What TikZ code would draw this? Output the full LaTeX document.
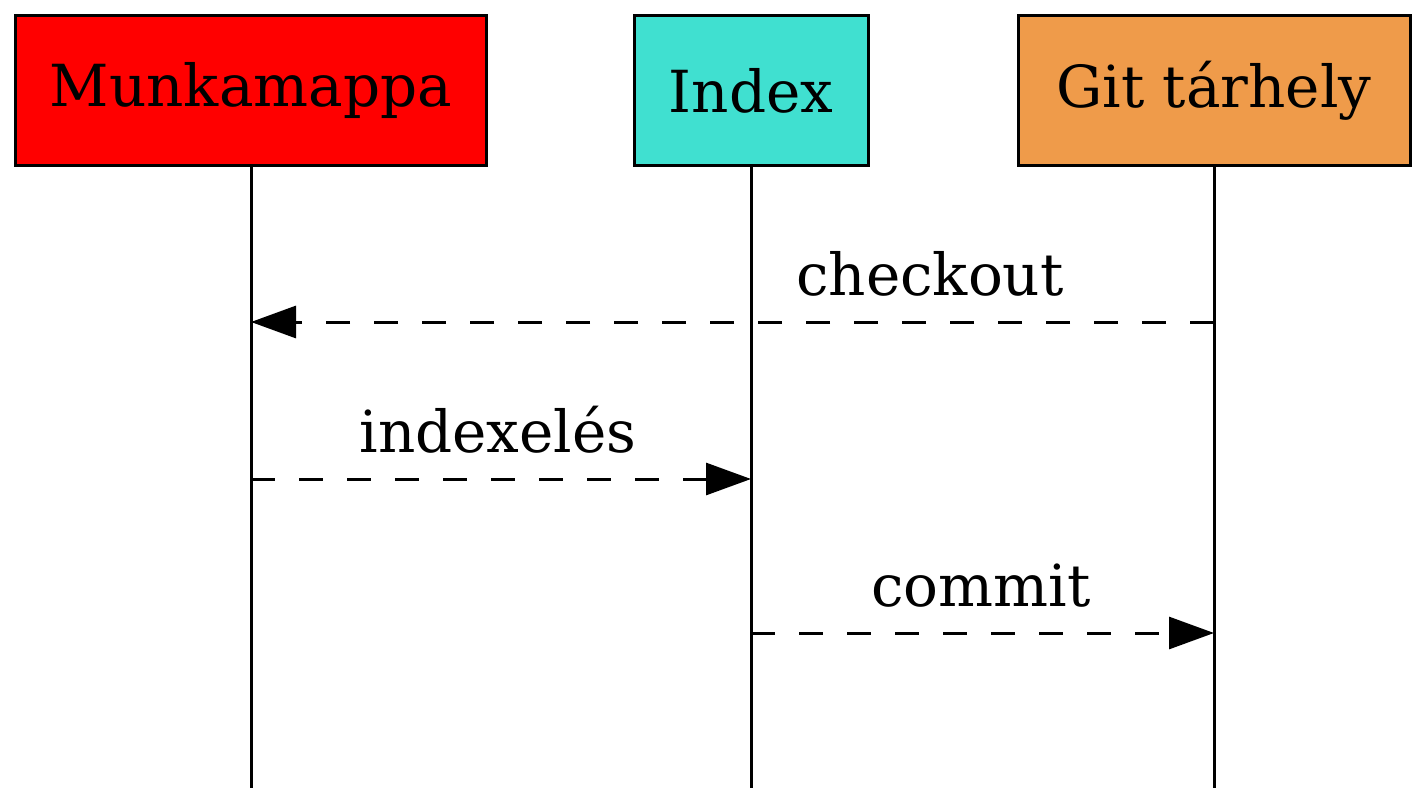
\documentclass[tikz,border=0pt]{standalone}
\usepackage{fontspec}
\setmainfont{DejaVu Serif}
\usetikzlibrary{arrows.meta}
\definecolor{gitorange}{HTML}{EF9B4A}
\definecolor{idxcyan}{HTML}{40E0D0}
\begin{document}
\begin{tikzpicture}[x=1pt,y=-1pt,line width=3pt,
    every node/.style={font=\fontsize{58}{64}\selectfont},
    actor/.style={draw,minimum height=150pt,inner sep=0pt},
    msg/.style={dash pattern=on 24pt off 24pt,-{Triangle[length=45pt,width=32pt]}},
    lbl/.style={anchor=base,yshift=27pt}]
  \useasboundingbox (0,0) rectangle (1427,805);
  % actors
  \node[actor,fill=red,minimum width=471pt] (M) at (251,91) {Munkamappa};
  \node[actor,fill=idxcyan,minimum width=234pt] (I) at (751,91) {Index};
  \node[actor,fill=gitorange,minimum width=392pt] (G) at (1214,91) {Git tárhely};
  % lifelines
  \coordinate (Mend) at (251,788);
  \coordinate (Iend) at (751,788);
  \coordinate (Gend) at (1214,788);
  \draw (M.south) -- (Mend);
  \draw (I.south) -- (Iend);
  \draw (G.south) -- (Gend);
  % message points
  \coordinate (G1) at (1214,322);
  \coordinate (M1) at (251,322);
  \coordinate (M2) at (251,479);
  \coordinate (I2) at (751,479);
  \coordinate (I3) at (751,633);
  \coordinate (G3) at (1214,633);
  \draw[msg] (G1) -- (M1) node[lbl,pos=0.295] {checkout};
  \draw[msg] (M2) -- (I2) node[lbl,pos=0.494] {indexelés};
  \draw[msg] (I3) -- (G3) node[lbl,pos=0.497] {commit};
\end{tikzpicture}
\end{document}
